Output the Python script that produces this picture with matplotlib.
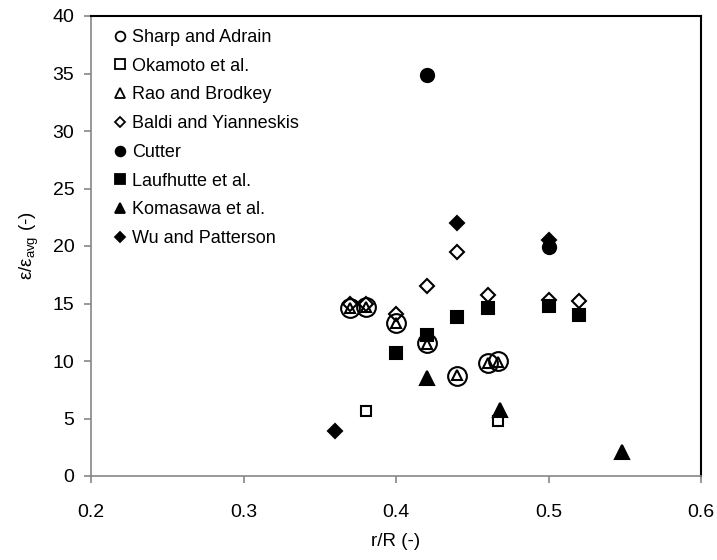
import matplotlib.pyplot as plt
from matplotlib.lines import Line2D

plt.rcParams['font.family'] = ['Liberation Sans', 'DejaVu Sans']
plt.rcParams['mathtext.fontset'] = 'custom'
plt.rcParams['mathtext.rm'] = 'Liberation Sans'

# datos por autor (r/R, eps/eps_avg)
sharp_x = [0.37, 0.38, 0.40, 0.42, 0.44, 0.46, 0.467]
sharp_y = [14.6, 14.7, 13.3, 11.6, 8.7, 9.85, 10.0]

okamoto_x = [0.38, 0.467]
okamoto_y = [5.65, 4.8]

rao_x = [0.37, 0.38, 0.40, 0.42, 0.44, 0.46, 0.467]
rao_y = [14.6, 14.7, 13.3, 11.5, 8.8, 9.8, 9.9]

baldi_x = [0.37, 0.38, 0.40, 0.42, 0.44, 0.46, 0.50, 0.52]
baldi_y = [15.0, 15.0, 14.1, 16.5, 19.5, 15.7, 15.3, 15.2]

cutter_x = [0.42, 0.50]
cutter_y = [34.9, 19.9]

laufhutte_x = [0.40, 0.42, 0.44, 0.46, 0.50, 0.52]
laufhutte_y = [10.7, 12.3, 13.85, 14.6, 14.8, 14.0]

komasawa_x = [0.42, 0.468, 0.548]
komasawa_y = [8.5, 5.7, 2.1]

wu_x = [0.36, 0.44, 0.50]
wu_y = [3.9, 22.0, 20.5]

series = [
    ("Sharp and Adrain", sharp_x, sharp_y, 'o', 'none', 13.5),
    ("Okamoto et al.", okamoto_x, okamoto_y, 's', 'none', 7.5),
    ("Rao and Brodkey", rao_x, rao_y, '^', 'none', 7.5),
    ("Baldi and Yianneskis", baldi_x, baldi_y, 'D', 'none', 7.0),
    ("Cutter", cutter_x, cutter_y, 'o', 'black', 9.5),
    ("Laufhutte et al.", laufhutte_x, laufhutte_y, 's', 'black', 9.0),
    ("Komasawa et al.", komasawa_x, komasawa_y, '^', 'black', 10.5),
    ("Wu and Patterson", wu_x, wu_y, 'D', 'black', 7.5),
]

fig = plt.figure(figsize=(7.17, 5.60), dpi=100)
ax = fig.add_axes([91 / 717, 1 - 476 / 560, 610 / 717, 460 / 560])

handles = []
for nombre, x, y, m, fc, ms in series:
    ax.plot(x, y, linestyle='none', marker=m, markersize=ms,
            markerfacecolor=fc, markeredgecolor='black', markeredgewidth=1.5)
    handles.append(Line2D([], [], linestyle='none', marker=m, markersize=7 if m != 'D' else 5.2,
                          markerfacecolor=fc, markeredgecolor='black',
                          markeredgewidth=1.3, label=nombre))

ax.set_xlim(0.2, 0.6)
ax.set_ylim(0, 40)
ax.set_xticks([0.2, 0.3, 0.4, 0.5, 0.6])
ax.set_yticks(range(0, 41, 5))

for lado in ['left', 'bottom']:
    ax.spines[lado].set_color('#868686')
    ax.spines[lado].set_linewidth(1.2)
for lado in ['top', 'right']:
    ax.spines[lado].set_color('black')
    ax.spines[lado].set_linewidth(1.5)

ax.tick_params(direction='out', length=5, width=1.2, color='#868686',
               labelsize=14, labelcolor='black')
ax.tick_params(axis='x', pad=15)
ax.tick_params(axis='y', pad=7)

ax.set_xlabel('r/R (-)', fontsize=13.5, labelpad=9)
ax.set_ylabel(r'ε/ε$_{\mathregular{avg}}$ (-)', fontsize=13.5, labelpad=8)

ax.legend(handles=handles, loc='upper left', bbox_to_anchor=(0.036, 0.972),
          frameon=False, fontsize=13, handlelength=0.8, handletextpad=0.25,
          labelspacing=0.65, borderaxespad=0, borderpad=0)

fig.savefig('out.png', dpi=100)
